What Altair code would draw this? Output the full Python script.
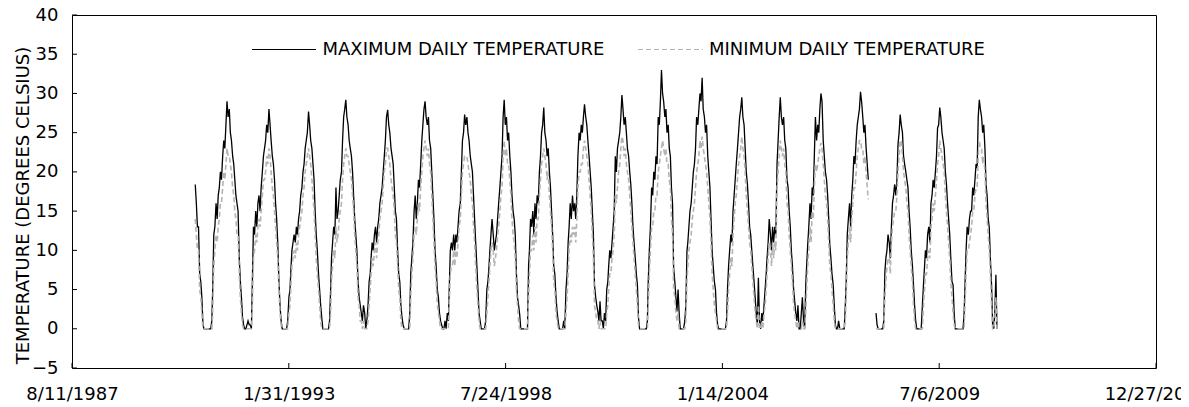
import altair as alt
import pandas as pd

# ---- values (dekads: 1st, 11th, 21st of each month) ----
max_1990 = [18.4, 16, 13, 13, 7, 6, 4, 0.5, 0, 0]          # from Sep 21
min_1990 = [14, 12, 10, 10, 5, 4, 2, 0, 0, 0]

max_1991 = [0,0,0, 0,0,1, 5,12,13, 16,14,17, 18,20,19, 22,24,23, 26,29,27, 28,25,24, 22,21,19, 17,16,15, 9,6,4, 1.5,0.5,0]
min_1991 = [0,0,0, 0,0,0, 2,8,10, 12,11,13, 14,16,16, 18,20,19, 21,23,22, 22,21,20, 18,17,15, 14,12,12, 7,4,2, 0.5,0,0]
max_1992 = [0,0.5,1, 0.5,0.5,0, 6,13,12, 15,13,16, 17,15,18, 20,22,23, 24,26,25, 28,26,24, 22,21,19, 16,14,11, 6,3,1, 0,0,0]
min_1992 = [0,0,0, 0,0,0, 3,9,10, 12,11,13, 14,13,15, 17,19,19, 20,22,21, 23,22,20, 18,17,15, 13,11,9, 5,2,0.5, 0,0,0]
max_1993 = [0,0,1, 4,5,8, 10,11,12, 11,13,12, 14,15,17, 18,20,21, 23,24,25, 27.7,26,24, 23,21,19, 15,12,10, 7,5,3, 1.4,0,0]
min_1993 = [0,0,0, 2,3,6, 8,9,10, 9,11,10, 12,13,14, 15,17,18, 20,21,22, 23,22,21, 19,17,15, 12,9,7, 5,3,1, 0,0,0]
max_1994 = [0,0,0, 0,1,5, 9,11,13, 12,18,14, 15,17,19, 20,24,27, 28,29.2,27, 26,24,23, 22,20,17, 14,12,10, 6,4,3, 2,1,3]
min_1994 = [0,0,0, 0,0,2, 6,8,10, 9,13,11, 12,14,15, 16,19,21, 22,23,22, 22,21,20, 19,17,15, 12,10,8, 4,3,1, 1,0,1]
max_1995 = [2,0,1, 3,6,7, 9,11,10, 12,13,11, 13,14,16, 17,18,20, 22,24,27, 27.9,26,25, 23,22,21, 18,15,14, 10,7,6, 3,1.5,0.5]
min_1995 = [0,0,0, 1,3,5, 7,9,8, 10,11,9, 11,12,14, 15,16,18, 20,21,23, 23,22,21, 19,18,17, 15,12,11, 8,5,4, 1,0,0]
max_1996 = [0,0,0, 0,0,2, 7,9,11, 15,17,14, 16,19,18, 21,24,26, 28,29,27, 26,27,24, 23,20,17, 14,10,8, 5,4,2, 1,0.5,0]
min_1996 = [0,0,0, 0,0,0, 4,7,9, 12,13,12, 14,16,15, 18,20,22, 23,24,23, 22,23,21, 20,17,14, 11,8,6, 3,2,1, 0,0,0]
max_1997 = [0,1,0, 2,1,6, 10,11,10, 12,10,12, 11,13,15, 16,20,24, 25,27.3,26, 27,25,24, 22,21,20, 17,14,11, 8,5,2, 1,0,0]
min_1997 = [0,0,0, 0,0,4, 7,8,8, 10,8,10, 9,11,13, 14,17,20, 21,22,22, 22,21,20, 19,17,16, 13,11,8, 5,3,1, 0,0,0]
max_1998 = [0,0,1, 5,6,8, 10,12,14, 12,10,11, 12,14,16, 18,20,22, 27,29.2,26, 27,24,25, 22,20,17, 15,14,12, 7,4,3, 1.8,0,0]
min_1998 = [0,0,0, 2,4,6, 8,10,11, 10,8,9, 10,12,13, 15,17,18, 22,24,22, 23,21,21, 19,17,14, 12,11,9, 5,3,1, 0,0,0]
max_1999 = [0,0,0, 0,0,8, 10,14,13, 15,12,16, 14,17,16, 20,22,25, 26,28.2,25, 24,22,23, 20,18,15, 12,8,7, 4,2.2,1, 0,0,0]
min_1999 = [0,0,0, 0,0,4, 7,10,10, 12,10,13, 11,14,14, 17,19,21, 22,23,22, 21,19,20, 17,15,13, 10,6,5, 2,1,0, 0,0,0]
max_2000 = [0,1,0, 5,7,11, 13,16,14, 17,15,16, 14,17,22, 25,24,26, 25,27,28.6, 27,26,24, 22,20,18, 15,12,5.6, 4,3,2.2, 1,3.5,1]
min_2000 = [0,0,0, 2,4,7, 10,12,11, 13,12,13, 11,14,18, 20,20,21, 21,23,24, 23,22,21, 19,17,15, 12,9,3, 2,1,1, 0,1,0]
max_2001 = [1,0,2, 1,5,6, 8,10,9, 11,13,15, 22,20,23, 24,25,27, 29.8,28,26, 27,25,23, 22,20,18.4, 16,13,11, 9,7,5.6, 1.4,0,0]
min_2001 = [0,0,0, 0,2,3, 5,7,7, 9,10,12, 17,16,18, 20,21,23, 24.5,24,22, 23,21,20, 19,17,15, 13,11,9, 7,5,3, 0.5,0,0]
max_2002 = [0,0,0, 0,0,1, 6,10,13, 18,17,20, 19,22,21, 27,26,29, 33,30,29, 27,28,25, 26,23,22, 18,16,7.8, 6,4,2.2, 5,2,0]
min_2002 = [0,0,0, 0,0,0, 3,7,10, 13,13,15, 15,17,17, 20,21,22, 23,24,23, 22,23,21, 21,19,18, 14,12,5, 4,2,1, 2,0,0]
max_2003 = [0,0,0, 1,3,9.9, 11,13,15, 16,18,20, 21,23,27, 26,28,30, 29,32,28, 27,25,26, 22,20,18, 14,10,8, 6,5,2, 0.5,0,0]
min_2003 = [0,0,0, 0,1,6, 8,10,11, 12,14,15, 16,18,20, 21,22,24, 23,24.5,23, 22,21,20, 18,16,14, 11,7,5, 3,2,1, 0,0,0]
max_2004 = [0,0,0, 0,0,1, 5,8,10, 12,11,15, 17,19,21, 23,25,27, 28,29.5,27, 26,23,20, 18.4,16,13, 12,10,8, 6,4,2, 0.5,6.5,1]
min_2004 = [0,0,0, 0,0,0, 2,5,7, 9,8,12, 14,16,17, 19,21,22, 23,24.5,23, 22,20,17, 15,13,11, 10,8,6, 4,2,1, 0,3,0]
max_2005 = [0,2,1, 3,5,7, 9,11,14, 12,10,13, 11,13,12, 21,24,27, 29.5,27,26, 27,24,23, 19,18,15, 13,10,8, 5,3.5,2, 1,3,0]
min_2005 = [0,1,0, 2,3,5, 7,9,11, 10,8,11, 9,11,10, 18,20,22, 24,23,22, 23,21,20, 16,15,12, 10,8,6, 3,2,1, 0,1,0]
max_2006 = [0,2,4, 1,0,5.6, 8,10.7,13, 16,14,18, 17,22,27, 24,26,25, 28,30,29, 24,22,20, 19,17,14, 10.7,9,7, 5.6,3,0.5, 0,0,1]
min_2006 = [0,0,1, 0,0,2, 5,8,10, 13,11,15, 14,18,21, 20,21,22, 23,23.7,23, 21,19,17, 16,14,11, 8,7,5, 3,1,0, 0,0,0]
max_2007 = [0,0,0, 0,0,3, 6,12,14, 16,13,17, 19,22,21, 24,26,27, 28,30.2,29, 27,25,26, 23,21,19,
            None,None,None, None,None,None, 2,0.5,0]
min_2007 = [0,0,0, 0,0,1, 4,9,11, 13,11,14, 16,18,18, 20,22,23, 24,24,23, 23,21,22, 20,18,16.5,
            None,None,None, None,None,None, 0,0,0]
max_2008 = [0,0,0, 0,1,7.3, 9,10,12, 11,9,13, 16,17,18.4, 17,19,23.5, 25,27.3,26, 25,22,21, 20,19,18, 15,12.9,10, 8,5.6,3, 1,0,0]
min_2008 = [0,0,0, 0,0,4, 6,8,9, 9,7,11, 13,14,15, 15,17,20, 22,24,24, 22,20,19, 18,16,15, 12,10,8, 6,3,1, 0,0,0]
max_2009 = [0,0,0, 3,5.6,8, 10,9,12, 13,11,16, 17,19,18, 20,22,25.6, 26,28.2,27, 25,24,23, 20,18.4,16, 14,12,9, 6,5.6,2, 0,0,0]
min_2009 = [0,0,0, 0,3,5, 7,7,9, 10,9,13, 14,16,15, 17,19,21, 22,24,23, 22,21,20, 17,15,13, 11,9,6, 4,2,0.5, 0,0,0]
max_2010 = [0,0,0, 0,0,2, 5.6,10,13, 12,14,15, 15,18,17, 19,21,20.5, 27,29.2,28, 27,25,26, 23,18.4,17, 14,12.9,9, 5.6,0.5,0, 2,6.9,0]
min_2010 = [0,0,0, 0,0,0, 3,7,10, 10,11,12, 13,15,15, 17,18,18, 22,24,23, 23,21,22, 20,16,14, 12,10,7, 3,0,0, 1,4,0]

years = list(range(1990, 2011))
max_by_year = [max_1990, max_1991, max_1992, max_1993, max_1994, max_1995, max_1996,
               max_1997, max_1998, max_1999, max_2000, max_2001, max_2002, max_2003,
               max_2004, max_2005, max_2006, max_2007, max_2008, max_2009, max_2010]
min_by_year = [min_1990, min_1991, min_1992, min_1993, min_1994, min_1995, min_1996,
               min_1997, min_1998, min_1999, min_2000, min_2001, min_2002, min_2003,
               min_2004, min_2005, min_2006, min_2007, min_2008, min_2009, min_2010]
dekad_days = [1, 11, 21]

tick_dates = ["1987-08-11", "1993-01-31", "1998-07-24", "2004-01-14", "2009-07-06", "2014-12-27"]
y_ticks = [-5, 0, 5, 10, 15, 20, 25, 30, 35, 40]
legend_labels = ["MAXIMUM DAILY TEMPERATURE", "MINIMUM DAILY TEMPERATURE"]
y_title = "TEMPERATURE (DEGREES CELSIUS)"

# ---- build long tables ----
max_rows, min_rows = [], []
seg = 0
in_gap = False
for year, mx, mn in zip(years, max_by_year, min_by_year):
    start = 36 - len(mx)
    for i, (a, b) in enumerate(zip(mx, mn)):
        k = start + i
        date = f"{year}-{k // 3 + 1:02d}-{dekad_days[k % 3]:02d}"
        if a is None:
            if not in_gap:
                seg += 1
                in_gap = True
            continue
        in_gap = False
        max_rows.append({"date": date, "value": a, "seg": seg})
        min_rows.append({"date": date, "value": b, "seg": seg})
max_df = pd.DataFrame(max_rows)
min_df = pd.DataFrame(min_rows)

W, H = 1084, 353
FONT = "DejaVu Sans"
GRAY = "#b4b4b4"


def dt(s):
    y, m, d = (int(p) for p in s.split("-"))
    return alt.DateTime(year=y, month=m, date=d, utc=True)


x_scale = alt.Scale(type="utc", domain=[dt(tick_dates[0]), dt(tick_dates[-1])])
y_scale = alt.Scale(domain=[-5, 40], nice=False, zero=False)

x_axis = alt.Axis(values=[dt(t) for t in tick_dates],
                  labelExpr="(utcmonth(datum.value) + 1) + '/' + utcdate(datum.value) + '/' + utcyear(datum.value)",
                  labelFlush=False, labelOverlap=False, ticks=False, tickSize=0, domain=False,
                  grid=False, title=None, labelPadding=31, labelBaseline="alphabetic",
                  labelFontSize=18, labelFont=FONT, labelColor="black")
y_axis = alt.Axis(values=y_ticks, ticks=False, tickSize=0, domain=False, grid=False,
                  labelOverlap=False, labelFlush=False, labelBound=False,
                  labelPadding=14, labelFontSize=18, labelFont=FONT, labelColor="black",
                  title=y_title, titleFontSize=18, titleFont=FONT, titleFontWeight="normal",
                  titleColor="black", titleAngle=270, titleAlign="center",
                  titleBaseline="alphabetic", titleX=-44, titleY=190)

x_enc = alt.X("date:T", scale=x_scale, axis=x_axis)
y_enc = alt.Y("value:Q", scale=y_scale, axis=y_axis)

max_line = alt.Chart(max_df).mark_line(color="black", strokeWidth=1.3).encode(
    x=x_enc, y=y_enc, detail="seg:N")
min_line = alt.Chart(min_df).mark_line(color=GRAY, strokeWidth=1.6, strokeDash=[5, 3]).encode(
    x=x_enc, y=y_enc, detail="seg:N")

ytick_df = pd.DataFrame({"value": y_ticks})
ytick_layer = alt.Chart(ytick_df).mark_rule(color="black", strokeWidth=1).encode(
    y=y_enc, x=alt.value(0), x2=alt.value(5))
xtick_df = pd.DataFrame({"date": tick_dates})
xtick_layer = alt.Chart(xtick_df).mark_rule(color="black", strokeWidth=1).encode(
    x=x_enc, y=alt.value(H), y2=alt.value(H - 5))

one = pd.DataFrame({"k": [0]})
leg_y = 34.5
leg_max_line = alt.Chart(one).mark_rule(color="black", strokeWidth=1).encode(
    x=alt.value(180), x2=alt.value(244), y=alt.value(leg_y))
leg_min_line = alt.Chart(one).mark_rule(color=GRAY, strokeWidth=1.2, strokeDash=[5, 3]).encode(
    x=alt.value(566), x2=alt.value(631), y=alt.value(leg_y))
leg_max_text = alt.Chart(pd.DataFrame({"t": [legend_labels[0]]})).mark_text(
    align="left", baseline="middle", fontSize=18, font=FONT, color="black").encode(
    text="t:N", x=alt.value(250.5), y=alt.value(leg_y))
leg_min_text = alt.Chart(pd.DataFrame({"t": [legend_labels[1]]})).mark_text(
    align="left", baseline="middle", fontSize=18, font=FONT, color="black").encode(
    text="t:N", x=alt.value(637), y=alt.value(leg_y))

chart = alt.layer(
    max_line, min_line, ytick_layer, xtick_layer,
    leg_max_line, leg_min_line, leg_max_text, leg_min_text,
).properties(
    width=W, height=H,
    autosize=alt.AutoSizeParams(type="none"),
    padding={"left": 64, "top": 7, "right": 25, "bottom": 35},
    background="white",
).configure_view(
    stroke="black", strokeWidth=1
).configure_axisY(
    labelOverlap=False
)

chart.save("out.html", embed_options={"renderer": "svg", "actions": False})
